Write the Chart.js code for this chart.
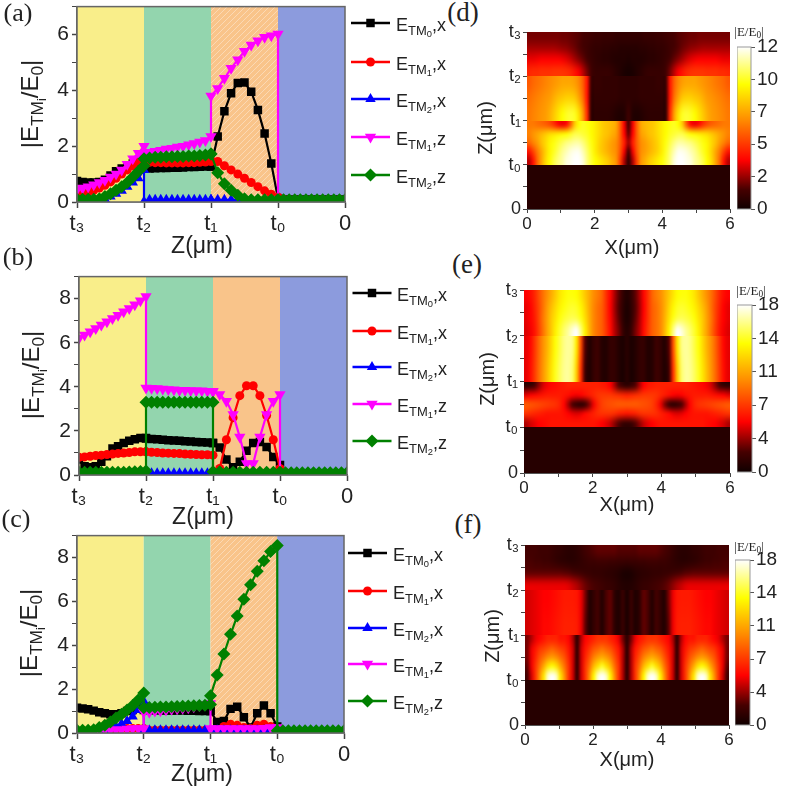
<!DOCTYPE html>
<html>
<head>
<meta charset="utf-8">
<title>TM field profiles</title>
<script src="https://cdn.jsdelivr.net/npm/chart.js@4"></script>
<style>
  html, body { margin: 0; padding: 0; background: #fff; }
  #page { position: relative; width: 787px; height: 787px; overflow: hidden; font-family: "Liberation Sans", Arial, sans-serif; color: #222; }
  canvas { position: absolute; }
  .t { position: absolute; white-space: nowrap; line-height: 1; }
  sub { font-size: 72%; vertical-align: -0.28em; line-height: 0; }
  .serif { font-family: "Liberation Serif", serif; }
</style>
</head>
<body>
<div id="page"></div>
<script>
// shared x positions: t3=0, t2=1, t1=2, t0=3, 0=4 (layer edges appear twice)
const zPos = [
  0, .083, .167, .25, .333, .417, .5, .583, .667, .75, .833, .917, 1,
  1, 1.083, 1.167, 1.25, 1.333, 1.417, 1.5, 1.583, 1.667, 1.75, 1.833, 1.917, 2,
  2, 2.1, 2.2, 2.3, 2.4, 2.5, 2.6, 2.7, 2.8, 2.9, 3,
  3, 3.083, 3.167, 3.25, 3.333, 3.417, 3.5, 3.583, 3.667, 3.75, 3.833, 3.917, 4
];
const zTickLabels = ['t₃', 't₂', 't₁', 't₀', '0'];
const heightTickLabels = ['0', 't₀', 't₁', 't₂', 't₃'];
const seriesNames = ['TM0x', 'TM1x', 'TM2x', 'TM1z', 'TM2z'];
const seriesColors = ['#000000', '#ff0000', '#0000ff', '#ff00ff', '#008000'];
const seriesMarkers = ['rect', 'circle', 'triangle', 'triangle', 'rectRot'];
const bandEdges = [0, 1, 2, 3, 4];
const bandColors = ['#f9ee8a', '#93d5ae', '#f9c48a', '#8c9bdd'];

// panel (a)
const a_TM0x = [.75,.72,.7,.7,.72,.8,.95,1.1,1.2,1.3,1.38,1.42,1.45, 1.2,1.2,1.21,1.22,1.22,1.23,1.23,1.24,1.25,1.25,1.26,1.27,1.27, 1.27,2.35,3.25,3.9,4.26,4.28,3.95,3.3,2.45,1.38,.12, .1,.08,.08,.08,.08,.08,.08,.08,.08,.08,.08,.08,.08];
const a_TM1x = [.25,.3,.35,.42,.5,.6,.72,.85,1,1.15,1.3,1.45,1.6, 1.42,1.42,1.41,1.41,1.4,1.4,1.4,1.4,1.41,1.41,1.42,1.43,1.45, 1.5,1.45,1.3,1.15,1,.85,.7,.55,.4,.28,.18, .12,.1,.08,.08,.08,.08,.08,.08,.08,.08,.08,.08,.08];
const a_TM2x = [.02,.02,.02,.02,.05,.1,.2,.3,.4,.55,.7,.85,1.15, .02,.08,.08,.08,.08,.08,.08,.08,.08,.08,.08,.08,.08, .08,.08,.08,.08,.08,.08,.08,.08,.08,.08,.08, .08,.08,.08,.08,.08,.08,.08,.08,.08,.08,.08,.08,.08];
const a_TM1z = [.45,.5,.55,.62,.7,.78,.9,1,1.15,1.35,1.55,1.75,2, 1.75,1.78,1.82,1.85,1.9,1.93,1.97,2,2.05,2.1,2.15,2.2,2.35, 3.8,4.07,4.43,4.79,5.1,5.4,5.62,5.78,5.9,5.96,6.02, .1,.06,.06,.06,.06,.06,.06,.06,.06,.06,.06,.06,.06];
const a_TM2z = [.1,.1,.1,.1,.12,.2,.3,.42,.55,.7,.9,1.1,1.3, 1.55,1.58,1.6,1.6,1.62,1.62,1.63,1.63,1.65,1.65,1.67,1.68,1.72, 1.72,1.05,.65,.42,.24,.12,.08,.08,.08,.08,.08, .08,.08,.08,.08,.08,.08,.08,.08,.08,.08,.08,.08,.08];
// panel (b)
const b_TM0x = [.7,.4,.35,.4,.6,.85,1.2,1.3,1.45,1.55,1.62,1.68,1.68, 1.65,1.63,1.62,1.6,1.58,1.56,1.55,1.53,1.52,1.5,1.49,1.47,1.45, 1.45,1.25,.7,.35,.6,1.1,1.45,1.5,1.27,.82,.45, .1,.08,.08,.08,.08,.08,.08,.08,.08,.08,.08,.08,.08];
const b_TM1x = [.8,.82,.85,.88,.9,.93,.95,.98,1,1.02,1.05,1.05,1.05, 1.05,1.03,1.02,1,.99,.98,.97,.95,.94,.93,.92,.92,.9, .15,.3,1.6,2.6,3.6,4.05,4.05,3.6,2.7,1.6,.3, .25,.1,.08,.08,.08,.08,.08,.08,.08,.08,.08,.08,.08];
const b_TM2x = [.08,.08,.08,.08,.08,.08,.08,.08,.08,.08,.08,.08,.08, .08,.08,.08,.08,.08,.08,.08,.08,.08,.08,.08,.08,.08, .08,.08,.08,.08,.08,.08,.08,.08,.08,.08,.08, .08,.08,.08,.08,.08,.08,.08,.08,.08,.08,.08,.08,.08];
const b_TM1z = [6.2,6.35,6.5,6.65,6.8,6.95,7.1,7.25,7.4,7.55,7.72,7.9,8.1, 3.95,3.93,3.92,3.9,3.88,3.87,3.85,3.85,3.83,3.82,3.82,3.8,3.8, 3.78,3.65,3.35,2.75,1.72,.52,.52,1.72,2.75,3.35,3.65, .1,.08,.08,.08,.08,.08,.08,.08,.08,.08,.08,.08,.08];
const b_TM2z = [.12,.12,.12,.12,.12,.12,.12,.12,.13,.14,.15,.16,.18, 3.3,3.3,3.3,3.3,3.3,3.3,3.3,3.3,3.3,3.3,3.3,3.3,3.3, .15,.15,.12,.12,.12,.12,.12,.12,.12,.12,.12, .1,.1,.1,.1,.1,.1,.1,.1,.1,.1,.1,.1,.1];
// panel (c)
const c_TM0x = [1.15,1.12,1.08,1.02,.95,.9,.85,.85,.9,1,1.05,1.15,1.2, 1.05,1.05,1.04,1.04,1.03,1.03,1.02,1.02,1.01,1.01,1,1,1, 1,.5,.55,1.1,1.2,.72,.25,.9,1.25,.9,.3, .08,.08,.08,.08,.08,.08,.08,.08,.08,.08,.08,.08,.08];
const c_TM1x = [.06,.06,.08,.1,.12,.14,.16,.18,.2,.2,.2,.2,.2, .12,.12,.12,.12,.12,.12,.12,.12,.12,.12,.12,.12,.12, .12,.15,.3,.4,.35,.25,.2,.35,.4,.3,.15, .08,.08,.08,.08,.08,.08,.08,.08,.08,.08,.08,.08,.08];
const c_TM2x = [.02,.02,.03,.05,.08,.12,.2,.3,.42,.55,.75,1.05,1.45, .12,.12,.12,.12,.12,.12,.12,.12,.12,.12,.12,.12,.12, .12,.12,.12,.12,.12,.12,.12,.12,.12,.12,.12, .08,.08,.08,.08,.08,.08,.08,.08,.08,.08,.08,.08,.08];
const c_TM1z = [.05,.05,.08,.1,.12,.15,.15,.15,.15,.18,.2,.2,.2, .95,.95,1,1.02,1.05,1.08,1.1,1.13,1.15,1.2,1.25,1.3,1.35, .2,.2,.2,.2,.2,.2,.2,.2,.22,.25,.25, .08,.08,.08,.08,.08,.08,.08,.08,.08,.08,.08,.08,.08];
const c_TM2z = [.12,.12,.13,.15,.25,.35,.5,.68,.85,1.05,1.25,1.5,1.82, 1.15,1.16,1.17,1.18,1.19,1.2,1.21,1.22,1.23,1.24,1.25,1.27,1.3, 1.7,2.64,3.6,4.5,5.33,6.1,6.76,7.37,7.85,8.27,8.55, .1,.1,.1,.1,.1,.1,.1,.1,.1,.1,.1,.1,.1];

// field maps: half of each row, x = 0 .. 3 every 0.125 um, the right half mirrors it
const d_top = [
  [2,2,2,2,2,2,2,2,1.9,1.9,1.8,1.7,1.6,1.4,1.3,1.2,1.1,1.1,1,1,1,.9,.9,.9,.9],
  [2.6,2.6,2.6,2.6,2.6,2.6,2.6,2.5,2.4,2.3,2.1,1.9,1.6,1.4,1.2,1,.9,.9,.8,.8,.7,.7,.6,.6,.6],
  [3.4,3.4,3.5,3.6,3.6,3.6,3.6,3.6,3.5,3.3,3,2.6,2.2,1.8,1.4,1.1,.9,.8,.7,.7,.6,.5,.5,.5,.4],
  [4.4,4.5,4.5,4.6,4.6,4.6,4.7,4.7,4.7,4.6,4.4,4,3.5,2.8,2,1.3,1,1,1,1,.9,.7,.5,.3,.2]
];
const d_mid = [
  [5.5,5.8,6,6.2,6.4,6.6,6.8,7,7.2,7.2,7.2,7,6.5,5.6,4,1.2,1,1,.9,.9,.9,.9,.8,.8,.8],
  [6,6.2,6.4,6.6,6.8,7,7.4,7.8,8,8.2,8.2,8,7.2,6,4,1,.9,.9,.9,.9,.9,.9,.8,.8,.8],
  [6.2,6.4,6.6,6.8,7,7.4,8,8.6,9.2,9.6,9.8,9.6,8.6,7,4.5,.9,.8,.8,.8,.8,.7,.5,.4,.5,1.2]
];
const d_low = [
  [6.2,6.2,6,5.8,5.6,5.2,4.6,3.8,3.4,3.8,5.6,8,9.2,9.6,9.4,9.2,8.8,8.4,8,7.8,7.6,7.2,5.6,3.4,1.4],
  [6.4,6.8,7.2,7.6,8,8.4,8.6,8.8,9,9.2,9.6,10,10,9.8,9.6,9.2,8.8,8.4,8,7.8,7.4,7,5.6,3.6,1.8],
  [5.8,6.4,7,7.8,8.4,9,9.4,9.8,10.2,10.6,10.8,11,11,10.6,10,9.4,8.8,8.2,7.8,7.4,7,6.6,5.6,4.2,2.6],
  [4,5,6.2,7.2,8.2,9,9.6,10.2,10.8,11.2,11.6,11.8,11.8,11.2,10.4,9.6,8.8,8.2,7.8,7.4,7,6.6,5.4,3.4,1.4],
  [2.8,4,5.8,7.2,8.4,9.2,10,10.6,11,11.6,11.8,12,12,11.6,10.6,9.8,9.2,8.8,8.4,8,7.4,6.8,5,2.6,.7]
];
const d_base = [[.6]];

const e_top = [
  [5.4,5.8,6.6,7.8,9,10,11,12,13,13.6,14,14,13.8,13,12,11,10,9.4,8.6,7,5.6,4,2.6,1.4,.7],
  [5,5.4,6.4,7.6,9,10.4,11.6,12.6,13.4,14,14.4,14.6,14.4,13.6,12.4,11,9.8,9,8.4,7,5.4,3.8,2.4,1.2,.5],
  [5,5.4,6.2,7.6,9.2,10.6,12,13,14,14.6,15,15.2,15,14.2,12.8,11.2,9.8,9,8.4,7,5.6,4,2.6,1.2,.5],
  [4.8,5.2,6,7.4,9,10.6,12,13.4,14.6,15.6,16.4,17.4,18,16,13.4,11.4,9.8,9,8.4,7.2,5.8,4.2,3,1.6,.8]
];
const e_mid = [
  [5,5.6,7,8.6,10,11.2,12.6,14,15,16,16.4,16,13,8,2.5,.7,1.4,1.8,.9,.7,1.4,1.4,.8,.5,1],
  [5,5.8,7.2,8.8,10.2,11.6,13,14.4,15.4,16.2,16.4,15.6,12,7,2,.6,1.4,1.8,.9,.7,1.4,1.4,.8,.4,1]
];
const e_low = [
  [1.2,1.4,2.2,3.4,4.6,5.2,5.6,5.8,6,6.2,6.4,6.4,6.4,6.4,6.4,6.4,6.4,6.4,6.2,6,5.4,4,2.4,1.6,1.2],
  [5,5.4,5.6,5.8,6,6.2,6.2,6.2,6.2,6,5.8,5.4,5.2,5.4,5.8,6.2,6.6,7,7.2,7.2,7.2,7,6.8,6.6,6.4],
  [8.4,8.2,8,7.8,7.6,7.4,7.2,7,6.5,5.5,3.8,2,1,.6,1.2,3,5,6.5,7.4,7.8,8,8.2,8.4,8.4,8.4],
  [7,6.8,6.6,6.4,6.2,6,6,6,6,5.8,5.4,5,4.8,5,5.6,6,6.4,6.8,7,7,7,6.8,6.4,6.2,6],
  [4,4.6,5,5.4,5.6,5.8,6,6,6,6,6,6,6,6,6,6,6,5.8,5.4,5,4.4,3.4,2.4,1.6,1.4]
];
const e_base = [[.9]];

const f_top = [
  [2,2,2,1.8,1.8,1.8,1.6,1.4,1.3,1.1,1,1,1.2,1.5,1.9,2.2,2.4,2.6,2.6,2.6,2.6,2.6,2.4,2.4,2.4],
  [2.2,2.2,2,2,1.8,1.8,1.6,1.4,1.2,1.1,1,1,1.1,1.3,1.5,1.7,1.7,1.8,1.8,1.8,1.7,1.7,1.6,1.6,1.5],
  [2.6,2.6,2.6,2.6,2.6,2.6,2.6,2.6,2.6,2.5,2.4,2.2,2,1.8,1.6,1.5,1.4,1.4,1.3,1.2,1.1,1,.8,.5,.4],
  [5,5,5,5,5,5,5,5,5,5,4.8,4.4,4,3.4,2.8,2.4,2.2,2,1.8,1.6,1.5,1.3,1,.8,.7]
];
const f_mid = [
  [4.6,4.8,5,5.2,5.4,5.4,5.6,5.8,6,6.2,6.2,6.2,6,5,3,.8,1.4,2,.8,2.2,2.6,1.2,.6,1.6,.5],
  [4.6,4.8,5,5.2,5.6,5.6,5.8,6,6.2,6.4,6.4,6.4,6.2,5,2.6,.7,1.4,2,.7,2.2,2.6,1.2,.6,1.6,.5]
];
const f_low = [
  [3,4,5,5.5,6,6.5,6.5,6.5,6,6,5.5,4,1.2,4,5.5,6,6.5,7,7,7,6.5,6,5,3,1],
  [3,5,6,7,7.5,8,8.5,8,7.5,7,6,4.5,1.2,4.5,6,7,8,8.5,9,8.5,8,7,6,4,1],
  [3,5,6.5,8,9,10,10.5,10,9,8,6.5,4.5,1.2,4.5,6.5,8,9.5,10.5,11,10.5,9.5,8,6.5,4,1],
  [2.5,5,7,9,11,13,14,13,11,9,7,4.5,1.2,4.5,7,9,11.5,13,14.5,13,11.5,9,7,4,1],
  [2,4.5,7,10,13,17,18,17,13,10,7,4.5,1.2,4.5,7,10,13.5,17,18,17,13.5,10,7,4,1]
];
const f_base = [[.9]];

const cbarTicks12 = [0, 2.4, 4.8, 7.2, 9.6, 12];
const cbarTicks18 = [0, 3.6, 7.2, 10.8, 14.4, 18];
// colour ramp of the colour bar: position, r, g, b
const rampStops = [[0,16,0,0],[.12,70,0,0],[.3,255,0,0],[.55,255,140,0],[.77,255,255,0],[1,255,255,255]];

const page = document.getElementById('page');
const rampAt = t => {
  t = Math.min(1, Math.max(0, t));
  let i = 1;
  while (i < rampStops.length - 1 && rampStops[i][0] < t) i++;
  const p = rampStops[i - 1], q = rampStops[i], k = (t - p[0]) / (q[0] - p[0]);
  return [1, 2, 3].map(c => p[c] + (q[c] - p[c]) * k);
};

function addText(html, cx, cy, size, extra) {
  const d = document.createElement('div');
  d.className = 't' + (extra && extra.serif ? ' serif' : '');
  d.innerHTML = html;
  d.style.fontSize = size + 'px';
  d.style.left = cx + 'px';
  d.style.top = cy + 'px';
  d.style.transform = 'translate(-50%,-50%)' + (extra && extra.rot ? ' rotate(-90deg)' : '');
  page.appendChild(d);
}

// canvas that gives the chart area exactly the wanted box
function makeCanvas(box, left, bottom, top, right) {
  const c = document.createElement('canvas');
  c.width = left + box.w + right; c.height = top + box.h + bottom;
  c.style.left = (box.x - left) + 'px'; c.style.top = (box.y - top) + 'px';
  c.style.width = c.width + 'px'; c.style.height = c.height + 'px';
  page.appendChild(c);
  return c;
}

function hatchPattern(ctx, base) {
  const p = document.createElement('canvas');
  p.width = p.height = 6;
  const g = p.getContext('2d');
  g.fillStyle = base; g.fillRect(0, 0, 6, 6);
  g.strokeStyle = '#fbd9b4'; g.lineWidth = 1;
  g.beginPath(); g.moveTo(-1, 7); g.lineTo(7, -1); g.moveTo(-1, 1); g.lineTo(1, -1); g.moveTo(5, 7); g.lineTo(7, 5); g.stroke();
  return ctx.createPattern(p, 'repeat');
}

const bandPlugin = {
  id: 'bands',
  beforeDatasetsDraw(chart, args, opts) {
    const { ctx, chartArea: a, scales: { x } } = chart;
    bandColors.forEach((col, i) => {
      const l = x.getPixelForValue(bandEdges[i]), r = x.getPixelForValue(bandEdges[i + 1]);
      ctx.fillStyle = (opts.hatch && i === 2) ? hatchPattern(ctx, col) : col;
      ctx.fillRect(l, a.top, r - l, a.bottom - a.top);
    });
  },
  afterDraw(chart, args, opts) {
    const { ctx, chartArea: a } = chart;
    ctx.strokeStyle = '#666'; ctx.lineWidth = 1.5;
    ctx.strokeRect(a.left, a.top, a.right - a.left, a.bottom - a.top);
    // legend samples
    chart.data.datasets.forEach((ds, i) => {
      const y = opts.legendY[i];
      ctx.strokeStyle = ds.borderColor; ctx.lineWidth = 2.5;
      ctx.beginPath(); ctx.moveTo(opts.legendX[0], y); ctx.lineTo(opts.legendX[1], y); ctx.stroke();
      ctx.fillStyle = ds.borderColor;
      Chart.helpers.drawPoint(ctx, { pointStyle: ds.pointStyle, radius: ds.pointRadius, rotation: ds.pointRotation, borderWidth: 0 }, (opts.legendX[0] + opts.legendX[1]) / 2, y);
    });
  }
};

function linePanel(box, yMax, values, hatch, legendX, legendY) {
  const c = makeCanvas(box, 50, 50, 14, 60);
  const offX = box.x - 50, offY = box.y - 14;
  new Chart(c, {
    type: 'scatter',
    data: {
      datasets: values.map((v, i) => ({
        label: seriesNames[i],
        data: v.map((y, k) => ({ x: zPos[k], y })),
        showLine: true,
        order: 4 - i, // later series sit on top, as in the figure
        borderColor: seriesColors[i], backgroundColor: seriesColors[i],
        borderWidth: 2.2,
        pointStyle: seriesMarkers[i],
        pointRadius: [6, 4.5, 6, 6.5, 6.5][i],
        pointRotation: i === 3 ? 180 : 0,
        pointBorderWidth: 0,
        clip: { left: 0, right: 0, top: 10, bottom: 0 } // markers are cut at the frame
      }))
    },
    options: {
      responsive: false, animation: false,
      layout: { padding: { top: 14, right: 60, left: 0, bottom: 0 } },
      plugins: {
        legend: { display: false }, tooltip: { enabled: false },
        bands: { hatch, legendX: legendX.map(p => p - offX), legendY: legendY.map(p => p - offY) }
      },
      scales: {
        x: {
          type: 'linear', min: 0, max: 4,
          afterFit: s => { s.height = 50; },
          afterBuildTicks: s => { s.ticks = bandEdges.map(value => ({ value })); },
          grid: { drawOnChartArea: false, tickLength: 6, tickWidth: 1.5, tickColor: '#444' },
          border: { color: '#666', width: 1.5 },
          ticks: { maxRotation: 0, autoSkip: false, padding: 3, color: '#222', font: { size: 22, family: 'Liberation Sans' }, callback: v => zTickLabels[v] }
        },
        y: {
          min: 0, max: yMax,
          afterFit: s => { s.width = 50; },
          grid: { drawOnChartArea: false, tickLength: 5, tickWidth: c => c.tick.value % 2 ? 1 : 1.5, tickColor: '#444' },
          border: { color: '#666', width: 1.5 },
          ticks: { stepSize: 1, autoSkip: false, padding: 3, color: '#222', font: { size: 21, family: 'Liberation Sans' }, callback: v => v % 2 ? '' : v }
        }
      }
    },
    plugins: [bandPlugin]
  });
}

const heatPlugin = {
  id: 'heat',
  beforeDatasetsDraw(chart, args, opts) {
    const { ctx, scales: { x, y } } = chart;
    const l = x.getPixelForValue(0), r = x.getPixelForValue(6);
    chart.data.datasets.forEach(ds => {
      const rows = ds.rows, full = rows.map(w => w.length > 1 ? w.concat(w.slice(0, -1).reverse()) : w);
      const cols = full[0].length;
      const off = document.createElement('canvas');
      off.width = cols; off.height = rows.length;
      const g = off.getContext('2d'), im = g.createImageData(cols, rows.length);
      full.forEach((w, j) => w.forEach((v, i) => {
        const rgb = rampAt(v / opts.max), k = (j * cols + i) * 4;
        im.data[k] = rgb[0]; im.data[k + 1] = rgb[1]; im.data[k + 2] = rgb[2]; im.data[k + 3] = 255;
      }));
      g.putImageData(im, 0, 0);
      const t = y.getPixelForValue(ds.to), b = y.getPixelForValue(ds.from);
      ctx.imageSmoothingEnabled = true; ctx.imageSmoothingQuality = 'high';
      ctx.drawImage(off, l, t, r - l, b - t);
    });
  }
};

function heatPanel(box, max, layers) {
  const c = makeCanvas(box, 40, 30, 14, 14);
  new Chart(c, {
    type: 'scatter',
    data: {
      datasets: layers.map(l => ({
        rows: l.rows, from: l.from, to: l.to, pointRadius: 0,
        data: l.rows.flatMap((w, j) => w.map((v, i) => ({ x: i * .125, y: l.to - (j + .5) * (l.to - l.from) / l.rows.length })))
      }))
    },
    options: {
      responsive: false, animation: false,
      layout: { padding: { top: 14, right: 14, left: 0, bottom: 0 } },
      plugins: { legend: { display: false }, tooltip: { enabled: false }, heat: { max } },
      scales: {
        x: {
          type: 'linear', min: 0, max: 6,
          afterFit: s => { s.height = 30; },
          grid: { drawOnChartArea: false, tickLength: 4, tickWidth: 1, tickColor: '#444' },
          border: { color: '#555', width: 1 },
          ticks: { stepSize: 1, autoSkip: false, maxRotation: 0, padding: 1, color: '#222', font: { size: 17, family: 'Liberation Sans' }, callback: v => v % 2 ? '' : v }
        },
        y: {
          min: 0, max: 4,
          afterFit: s => { s.width = 40; },
          grid: { drawOnChartArea: false, tickLength: 4, tickWidth: 1, tickColor: '#444' },
          border: { color: '#555', width: 1 },
          ticks: { stepSize: .5, autoSkip: false, padding: 2, color: '#222', font: { size: 18, family: 'Liberation Sans' }, callback: v => Number.isInteger(v) ? heightTickLabels[v] : '' }
        }
      }
    },
    plugins: [heatPlugin]
  });
}

const cbarPlugin = {
  id: 'cbar',
  beforeDatasetsDraw(chart) {
    const { ctx, chartArea: a, scales: { y } } = chart;
    const grad = ctx.createLinearGradient(0, y.getPixelForValue(y.min), 0, y.getPixelForValue(y.max));
    rampStops.forEach(s => grad.addColorStop(s[0], `rgb(${s[1]},${s[2]},${s[3]})`));
    ctx.fillStyle = grad;
    ctx.fillRect(a.left, a.top, a.right - a.left, a.bottom - a.top);
    ctx.strokeStyle = '#999'; ctx.lineWidth = 1;
    ctx.strokeRect(a.left, a.top, a.right - a.left, a.bottom - a.top);
  }
};

function colorBar(box, tickVals) {
  const c = makeCanvas(box, 0, 14, 14, 38);
  new Chart(c, {
    type: 'scatter',
    data: { datasets: [{ data: [], pointRadius: 0 }] },
    options: {
      responsive: false, animation: false,
      layout: { padding: { top: 14, bottom: 14, left: 0, right: 0 } },
      plugins: { legend: { display: false }, tooltip: { enabled: false } },
      scales: {
        x: { display: false, min: 0, max: 1 },
        y: {
          position: 'right', min: tickVals[0], max: tickVals[tickVals.length - 1],
          afterFit: s => { s.width = 38; },
          afterBuildTicks: s => { s.ticks = tickVals.map(value => ({ value })); },
          grid: { drawOnChartArea: false, tickLength: 4, tickWidth: 1, tickColor: '#555' },
          border: { display: false },
          ticks: { padding: 2, color: '#222', font: { size: 19, family: 'Liberation Sans' }, callback: v => Math.round(v) }
        }
      }
    },
    plugins: [cbarPlugin]
  });
}

// line panels
linePanel({ x: 77, y: 5, w: 268, h: 197 }, 7, [a_TM0x, a_TM1x, a_TM2x, a_TM1z, a_TM2z], true, [351, 390], [23, 62, 99, 137, 175]);
linePanel({ x: 78.5, y: 275, w: 268.5, h: 200 }, 9, [b_TM0x, b_TM1x, b_TM2x, b_TM1z, b_TM2z], false, [352, 391], [293, 331, 367, 404, 441]);
linePanel({ x: 77, y: 534, w: 267.5, h: 199 }, 9, [c_TM0x, c_TM1x, c_TM2x, c_TM1z, c_TM2z], true, [348, 387], [553, 591, 628, 664, 701]);

// field maps
heatPanel({ x: 527, y: 32, w: 203, h: 177.5 }, 12, [
  { rows: d_top, from: 3, to: 4 }, { rows: d_mid, from: 2, to: 3 }, { rows: d_low, from: 1, to: 2 }, { rows: d_base, from: 0, to: 1 }
]);
heatPanel({ x: 524, y: 290, w: 206, h: 183 }, 18, [
  { rows: e_top, from: 3, to: 4 }, { rows: e_mid, from: 2, to: 3 }, { rows: e_low, from: 1, to: 2 }, { rows: e_base, from: 0, to: 1 }
]);
heatPanel({ x: 525, y: 545, w: 204, h: 180 }, 18, [
  { rows: f_top, from: 3, to: 4 }, { rows: f_mid, from: 2, to: 3 }, { rows: f_low, from: 1, to: 2 }, { rows: f_base, from: 0, to: 1 }
]);
colorBar({ x: 737, y: 47, w: 14, h: 162 }, cbarTicks12);
colorBar({ x: 737, y: 305, w: 15, h: 167 }, cbarTicks18);
colorBar({ x: 735, y: 560, w: 15, h: 165 }, cbarTicks18);

// text with subscripts
const yTitle = '|E<sub>TM<sub>i</sub></sub>/E<sub>0</sub>|';
const zTitle = 'Z(μm)', xTitle = 'X(μm)', cbTitle = '|E/E<sub>0</sub>|';
const legendTexts = ['E<sub>TM<sub>0</sub></sub>,x', 'E<sub>TM<sub>1</sub></sub>,x', 'E<sub>TM<sub>2</sub></sub>,x', 'E<sub>TM<sub>1</sub></sub>,z', 'E<sub>TM<sub>2</sub></sub>,z'];

addText('(a)', 18, 13, 26, { serif: 1 });
addText('(b)', 18, 257, 26, { serif: 1 });
addText('(c)', 16, 519, 26, { serif: 1 });
addText('(d)', 463, 12, 27, { serif: 1 });
addText('(e)', 467, 264, 27, { serif: 1 });
addText('(f)', 468, 524, 27, { serif: 1 });

addText(yTitle, 30, 104, 24, { rot: 1 });
addText(yTitle, 31, 375, 24, { rot: 1 });
addText(yTitle, 29, 633, 24, { rot: 1 });
addText(zTitle, 202, 245, 23);
addText(zTitle, 203, 516, 23);
addText(zTitle, 202, 773, 23);

[[23, 62, 99, 137, 175, 421], [293, 331, 367, 404, 441, 422], [553, 591, 628, 664, 701, 418]].forEach(r => {
  legendTexts.forEach((s, i) => addText(s, r[5], r[i] + 2, 18));
});

addText(zTitle, 485, 128, 20, { rot: 1 });
addText(zTitle, 487, 379, 20, { rot: 1 });
addText(zTitle, 492, 636, 20, { rot: 1 });
addText(xTitle, 632, 247, 20);
addText(xTitle, 627, 504, 20);
addText(xTitle, 627, 759, 20);
addText(cbTitle, 749, 31, 13, { serif: 1 });
addText(cbTitle, 751, 290, 13, { serif: 1 });
addText(cbTitle, 749, 546, 13, { serif: 1 });
</script>
</body>
</html>
